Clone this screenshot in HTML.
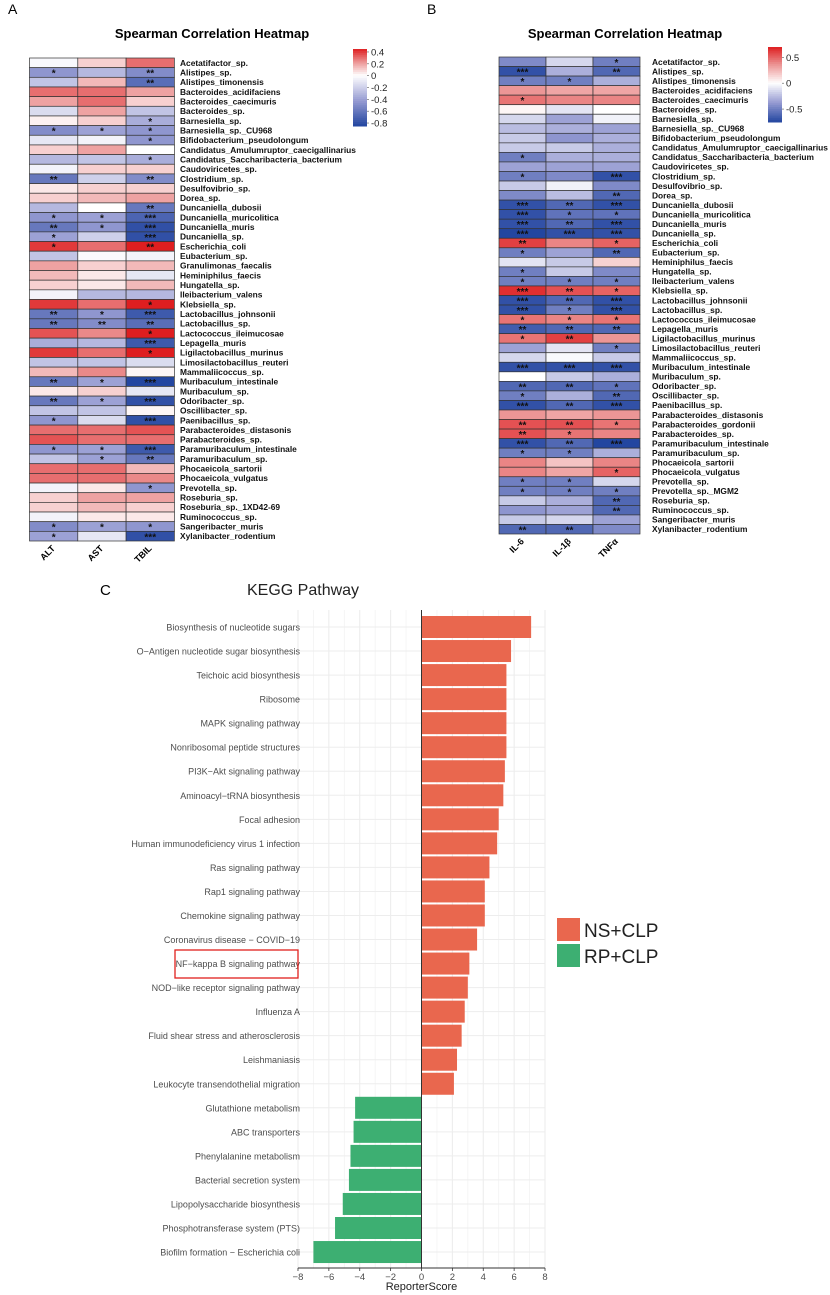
<!DOCTYPE html>
<html><head><meta charset="utf-8"><style>
body{margin:0;background:#fff}
svg{display:block;font-family:"Liberation Sans",Arial,sans-serif}
</style></head><body>
<svg id="fig" width="830" height="1295" viewBox="0 0 830 1295">
<text x="8" y="14" font-size="14">A</text>
<text x="427" y="14" font-size="14">B</text>
<text x="212" y="38" font-size="13" font-weight="bold" text-anchor="middle">Spearman Correlation Heatmap</text>
<text x="625" y="38" font-size="13" font-weight="bold" text-anchor="middle">Spearman Correlation Heatmap</text>
<g id="ga"></g>
<g id="gb"></g>
<text x="100" y="595" font-size="15">C</text>
<text x="247" y="595" font-size="16" fill="#222">KEGG Pathway</text>
<g id="gc"></g>
</svg>
<script>
const NS="http://www.w3.org/2000/svg";
function mk(p,t,a){const e=document.createElementNS(NS,t);for(const k in a)e.setAttribute(k,a[k]);p.appendChild(e);return e;}

// ---- Heatmap A data ----
const taxaA=["Acetatifactor_sp.","Alistipes_sp.","Alistipes_timonensis","Bacteroides_acidifaciens","Bacteroides_caecimuris","Bacteroides_sp.","Barnesiella_sp.","Barnesiella_sp._CU968","Bifidobacterium_pseudolongum","Candidatus_Amulumruptor_caecigallinarius","Candidatus_Saccharibacteria_bacterium","Caudoviricetes_sp.","Clostridium_sp.","Desulfovibrio_sp.","Dorea_sp.","Duncaniella_dubosii","Duncaniella_muricolitica","Duncaniella_muris","Duncaniella_sp.","Escherichia_coli","Eubacterium_sp.","Granulimonas_faecalis","Heminiphilus_faecis","Hungatella_sp.","Ileibacterium_valens","Klebsiella_sp.","Lactobacillus_johnsonii","Lactobacillus_sp.","Lactococcus_ileimucosae","Lepagella_muris","Ligilactobacillus_murinus","Limosilactobacillus_reuteri","Mammaliicoccus_sp.","Muribaculum_intestinale","Muribaculum_sp.","Odoribacter_sp.","Oscillibacter_sp.","Paenibacillus_sp.","Parabacteroides_distasonis","Parabacteroides_sp.","Paramuribaculum_intestinale","Paramuribaculum_sp.","Phocaeicola_sartorii","Phocaeicola_vulgatus","Prevotella_sp.","Roseburia_sp.","Roseburia_sp._1XD42-69","Ruminococcus_sp.","Sangeribacter_muris","Xylanibacter_rodentium"];
const varsA=["ALT","AST","TBIL"];
const altVals=[-0.03,-0.45,-0.25,0.3,0.2,-0.15,0.03,-0.5,-0.1,0.1,-0.3,-0.05,-0.6,0.05,0.1,-0.3,-0.45,-0.6,-0.4,0.4,-0.25,0.2,0.15,0.1,-0.05,0.4,-0.6,-0.6,0.35,-0.35,0.4,-0.25,0.15,-0.6,0.05,-0.6,-0.25,-0.45,0.3,0.35,-0.45,-0.25,0.3,0.3,-0.05,0.1,0.1,-0.05,-0.5,-0.4];
const astVals=[0.1,-0.3,0.15,0.3,0.3,0.2,0.1,-0.4,-0.05,0.2,-0.25,0.1,-0.2,0.1,0.15,0.0,-0.4,-0.45,-0.2,0.3,-0.02,0.1,0.05,0.05,-0.3,0.3,-0.45,-0.5,0.25,-0.3,0.3,-0.25,0.25,-0.4,0.1,-0.4,-0.25,-0.15,0.3,0.3,-0.4,-0.4,0.3,0.3,0.05,0.2,0.15,0.05,-0.4,-0.1];
const tbilVals=[0.3,-0.5,-0.65,0.2,0.1,-0.25,-0.35,-0.45,-0.45,0.0,-0.35,0.1,-0.5,0.1,0.2,-0.6,-0.7,-0.8,-0.8,0.45,-0.05,0.15,-0.1,0.15,-0.3,0.45,-0.75,-0.65,0.45,-0.75,0.45,-0.15,0.02,-0.85,-0.1,-0.8,0.02,-0.8,0.35,0.3,-0.75,-0.6,0.15,0.25,-0.45,0.2,0.1,0.05,-0.45,-0.8];
const altStars=[0,1,0,0,0,0,0,1,0,0,0,0,2,0,0,0,1,2,1,1,0,0,0,0,0,0,2,2,0,0,0,0,0,2,0,2,0,1,0,0,1,0,0,0,0,0,0,0,1,1];
const astStars=[0,0,0,0,0,0,0,1,0,0,0,0,0,0,0,0,1,1,0,0,0,0,0,0,0,0,1,2,0,0,0,0,0,1,0,1,0,0,0,0,1,1,0,0,0,0,0,0,1,0];
const tbilStars=[0,2,2,0,0,0,1,1,1,0,1,0,2,0,0,2,3,3,3,2,0,0,0,0,0,1,3,2,1,3,1,0,0,3,0,3,0,3,0,0,3,2,0,0,1,0,0,0,1,3];

// ---- Heatmap B data ----
const taxaB=["Acetatifactor_sp.","Alistipes_sp.","Alistipes_timonensis","Bacteroides_acidifaciens","Bacteroides_caecimuris","Bacteroides_sp.","Barnesiella_sp.","Barnesiella_sp._CU968","Bifidobacterium_pseudolongum","Candidatus_Amulumruptor_caecigallinarius","Candidatus_Saccharibacteria_bacterium","Caudoviricetes_sp.","Clostridium_sp.","Desulfovibrio_sp.","Dorea_sp.","Duncaniella_dubosii","Duncaniella_muricolitica","Duncaniella_muris","Duncaniella_sp.","Escherichia_coli","Eubacterium_sp.","Heminiphilus_faecis","Hungatella_sp.","Ileibacterium_valens","Klebsiella_sp.","Lactobacillus_johnsonii","Lactobacillus_sp.","Lactococcus_ileimucosae","Lepagella_muris","Ligilactobacillus_murinus","Limosilactobacillus_reuteri","Mammaliicoccus_sp.","Muribaculum_intestinale","Muribaculum_sp.","Odoribacter_sp.","Oscillibacter_sp.","Paenibacillus_sp.","Parabacteroides_distasonis","Parabacteroides_gordonii","Parabacteroides_sp.","Paramuribaculum_intestinale","Paramuribaculum_sp.","Phocaeicola_sartorii","Phocaeicola_vulgatus","Prevotella_sp.","Prevotella_sp._MGM2","Roseburia_sp.","Ruminococcus_sp.","Sangeribacter_muris","Xylanibacter_rodentium"];
const varsB=["IL-6","IL-1β","TNFα"];
const il6Vals=[-0.45,-0.7,-0.5,0.35,0.45,0.03,-0.15,-0.25,-0.2,-0.2,-0.5,-0.35,-0.5,-0.2,-0.45,-0.7,-0.7,-0.7,-0.75,0.6,-0.5,-0.1,-0.5,-0.5,0.65,-0.7,-0.7,0.45,-0.65,0.45,-0.35,-0.15,-0.7,0.0,-0.6,-0.5,-0.7,0.35,0.55,0.55,-0.7,-0.5,0.4,0.4,-0.5,-0.5,-0.2,-0.4,-0.2,-0.6];
const il1bVals=[-0.15,-0.3,-0.5,0.3,0.4,-0.1,-0.35,-0.3,-0.4,-0.2,-0.3,-0.35,-0.45,-0.05,-0.25,-0.6,-0.55,-0.6,-0.7,0.4,-0.35,-0.2,-0.2,-0.5,0.55,-0.6,-0.5,0.4,-0.6,0.6,-0.1,-0.02,-0.7,-0.2,-0.6,-0.3,-0.6,0.3,0.55,0.45,-0.6,-0.5,0.2,0.3,-0.5,-0.5,-0.3,-0.35,-0.15,-0.6];
const tnfVals=[-0.5,-0.6,-0.3,0.3,0.4,0.0,-0.05,-0.35,-0.3,-0.3,-0.3,-0.35,-0.7,-0.45,-0.6,-0.7,-0.55,-0.7,-0.7,0.5,-0.6,0.15,-0.45,-0.5,0.5,-0.7,-0.7,0.45,-0.6,0.35,-0.5,-0.2,-0.7,-0.3,-0.55,-0.6,-0.7,0.35,0.45,0.4,-0.75,-0.3,0.4,0.5,-0.15,-0.5,-0.6,-0.6,-0.35,-0.45];
const il6Stars=[0,3,1,0,1,0,0,0,0,0,1,0,1,0,0,3,3,3,3,2,1,0,1,1,3,3,3,1,2,1,0,0,3,0,2,1,3,0,2,2,3,1,0,0,1,1,0,0,0,2];
const il1bStars=[0,0,1,0,0,0,0,0,0,0,0,0,0,0,0,2,1,2,3,0,0,0,0,1,2,2,1,1,2,2,0,0,3,0,2,0,2,0,2,1,2,1,0,0,1,1,0,0,0,2];
const tnfStars=[1,2,0,0,0,0,0,0,0,0,0,0,3,0,2,3,1,3,3,1,2,0,0,1,1,3,3,1,2,0,1,0,3,0,1,2,3,0,1,0,3,0,0,1,0,1,2,2,0,0];

function lerp(a,b,t){return a.map((v,i)=>Math.round(v+(b[i]-v)*t));}
function color(v,min,max){
  const W=[255,255,255];
  if(v>=0){const t=Math.min(1,v/max);const c=t<0.5?lerp(W,[236,150,150],t*2):lerp([236,150,150],[222,30,32],(t-0.5)*2);return `rgb(${c})`;}
  const t=Math.min(1,v/min);const c=t<0.5?lerp(W,[150,155,210],t*2):lerp([150,155,210],[35,70,160],(t-0.5)*2);return `rgb(${c})`;
}
function heatmap(g,taxa,vars,cols,stars,x0,y0,cw,rh,min,max,lx,leg){
  const n=taxa.length;
  for(let r=0;r<n;r++){
    for(let c=0;c<3;c++){
      const rc=mk(g,'rect',{x:x0+c*cw,y:y0+r*rh,width:cw,height:rh,fill:color(cols[c][r],min,max),stroke:'#333','stroke-width':0.7});
      
      
      if(stars[c][r]>0){
        const s=mk(g,'text',{x:x0+c*cw+cw/2,y:y0+r*rh+rh/2+4.2,'font-size':10,'font-weight':'bold','text-anchor':'middle',fill:'#111'});
        s.textContent='*'.repeat(stars[c][r]);
        
        
      }
    }
    const t=mk(g,'text',{x:lx,y:y0+r*rh+rh/2+3,'font-size':8.4,'font-weight':'bold',fill:'#111'});
    t.textContent=taxa[r];
    
    
  }
  for(let c=0;c<3;c++){
    const cx=x0+c*cw+cw/2+2, cy=y0+n*rh+8;
    const t=mk(g,'text',{x:cx,y:cy,'font-size':9,'font-weight':'bold','text-anchor':'end',transform:`rotate(-45 ${cx} ${cy})`});
    t.textContent=vars[c];
    
    
  }
  const [gx,gy,gw,gh,ticks]=leg;
  const steps=40;
  for(let i=0;i<steps;i++){
    const v=max-(max-min)*(i+0.5)/steps;
    const r=mk(g,'rect',{x:gx,y:gy+i*gh/steps,width:gw,height:gh/steps+0.5,fill:color(v,min,max)});
    
    
  }
  ticks.forEach(v=>{
    const y=gy+(max-v)/(max-min)*gh;
    mk(g,'line',{x1:gx+gw,x2:gx+gw+2,y1:y,y2:y,stroke:'#555','stroke-width':0.6});
    const t=mk(g,'text',{x:gx+gw+4,y:y+3.5,'font-size':9.5,fill:'#222'});
    t.textContent=v;
    
    
  });
}
heatmap(document.getElementById('ga'),taxaA,varsA,[altVals,astVals,tbilVals],[altStars,astStars,tbilStars],29.5,58,48.3,9.66,-0.85,0.45,180,[353,49,14,77,[0.4,0.2,0,-0.2,-0.4,-0.6,-0.8]]);
heatmap(document.getElementById('gb'),taxaB,varsB,[il6Vals,il1bVals,tnfVals],[il6Stars,il1bStars,tnfStars],499,57,47,9.54,-0.75,0.7,652,[768,47,14,75,[0.5,0,-0.5]]);

// ---- KEGG bar chart ----
const pathways=["Biosynthesis of nucleotide sugars","O−Antigen nucleotide sugar biosynthesis","Teichoic acid biosynthesis","Ribosome","MAPK signaling pathway","Nonribosomal peptide structures","PI3K−Akt signaling pathway","Aminoacyl−tRNA biosynthesis","Focal adhesion","Human immunodeficiency virus 1 infection","Ras signaling pathway","Rap1 signaling pathway","Chemokine signaling pathway","Coronavirus disease − COVID−19","NF−kappa B signaling pathway","NOD−like receptor signaling pathway","Influenza A","Fluid shear stress and atherosclerosis","Leishmaniasis","Leukocyte transendothelial migration","Glutathione metabolism","ABC transporters","Phenylalanine metabolism","Bacterial secretion system","Lipopolysaccharide biosynthesis","Phosphotransferase system (PTS)","Biofilm formation − Escherichia coli"];
const scores=[7.1,5.8,5.5,5.5,5.5,5.5,5.4,5.3,5.0,4.9,4.4,4.1,4.1,3.6,3.1,3.0,2.8,2.6,2.3,2.1,-4.3,-4.4,-4.6,-4.7,-5.1,-5.6,-7.0];
const xTicks=[-8,-6,-4,-2,0,2,4,6,8];
const groups=["NS+CLP","RP+CLP"];
const groupColors=["#e9674e","#3daf72"];
(function(){
  const g=document.getElementById('gc');
  const X=v=>421.5+v*15.44;
  const top=610, bottom=1268, step=24.04, c0=627;
  const Y=i=>c0+i*step;
  for(let v=-7;v<=7;v+=2) mk(g,'line',{x1:X(v),x2:X(v),y1:top,y2:bottom,stroke:'#f3f3f3','stroke-width':0.8});
  xTicks.forEach(v=>mk(g,'line',{x1:X(v),x2:X(v),y1:top,y2:bottom,stroke:'#ebebeb','stroke-width':1}));
  pathways.forEach((p,i)=>{
    mk(g,'line',{x1:X(-8),x2:X(8),y1:Y(i),y2:Y(i),stroke:'#ededed','stroke-width':1});
    const t=mk(g,'text',{x:300,y:Y(i)+3.5,'font-size':9,fill:'#4d4d4d','text-anchor':'end'});
    t.textContent=p;
    
    
    const v=scores[i];
    const r=mk(g,'rect',{x:Math.min(X(0),X(v)),y:Y(i)-11,width:Math.abs(X(v)-X(0)),height:22,fill:v>=0?groupColors[0]:groupColors[1]});
    
    
  });
  mk(g,'line',{x1:X(0),x2:X(0),y1:top,y2:bottom,stroke:'#333','stroke-width':1});
  mk(g,'line',{x1:X(-8),x2:X(8),y1:bottom,y2:bottom,stroke:'#333','stroke-width':1});
  xTicks.forEach(v=>{
    mk(g,'line',{x1:X(v),x2:X(v),y1:bottom,y2:bottom+3,stroke:'#333','stroke-width':0.8});
    const t=mk(g,'text',{x:X(v),y:bottom+12,'font-size':9.5,fill:'#4d4d4d','text-anchor':'middle'});
    t.textContent=v<0?'−'+(-v):v;
    
    
  });
  const xt=mk(g,'text',{x:X(0),y:1290,'font-size':11,fill:'#222','text-anchor':'middle'});
  xt.textContent='ReporterScore';
  
  
  const hl=mk(g,'rect',{x:175,y:950,width:123,height:28,fill:'none',stroke:'#e0201c','stroke-width':1.3});
  
  
  groups.forEach((gname,i)=>{
    const r=mk(g,'rect',{x:557,y:918+i*26,width:23,height:23,fill:groupColors[i]});
    
    
    const t=mk(g,'text',{x:584,y:937+i*26,'font-size':19,fill:'#222'});
    t.textContent=gname;
    
    
  });
})();
</script>
</body></html>
